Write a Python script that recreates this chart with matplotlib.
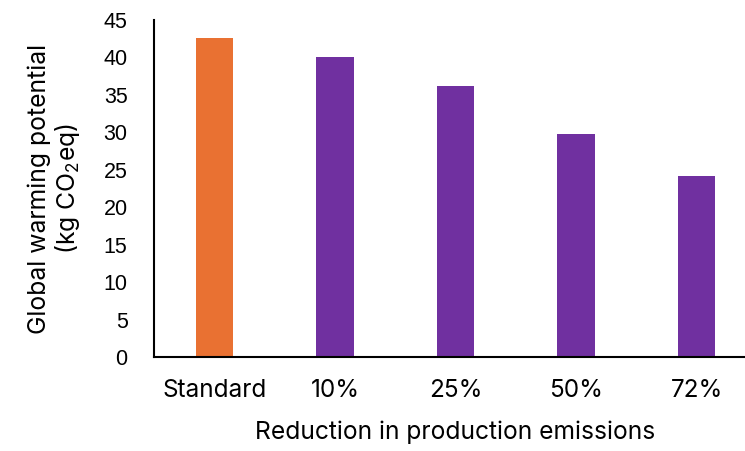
import matplotlib
matplotlib.use('Agg')
import matplotlib.pyplot as plt
import numpy as np

# Global warming potential per production scenario
scenarios = ['Standard', '10%', '25%', '50%', '72%']
gwp = [42.6, 40.0, 36.25, 29.8, 24.15]
bar_colors = ['#E97132', '#7030A0', '#7030A0', '#7030A0', '#7030A0']
y_ticks = [0, 5, 10, 15, 20, 25, 30, 35, 40, 45]

plt.rcParams['font.family'] = ['Inter', 'DejaVu Sans']
plt.rcParams['mathtext.fontset'] = 'custom'
plt.rcParams['mathtext.rm'] = 'Inter'
plt.rcParams['mathtext.it'] = 'Inter'

fig = plt.figure(figsize=(7.45, 4.51), dpi=100)
# axis runs a little past the right edge, as in the exported sheet
ax = fig.add_axes([154 / 745, 1 - 357 / 451, 603 / 745, 337 / 451])

x = np.arange(len(scenarios))
ax.bar(x, gwp, width=0.31, color=bar_colors)

ax.set_xlim(-0.5, len(scenarios) - 0.5)
ax.set_ylim(0, 45)
ax.set_yticks(y_ticks)
ax.set_xticks(x)
ax.set_xticklabels(scenarios)

for side in ['top', 'right']:
    ax.spines[side].set_visible(False)
ax.spines['left'].set_linewidth(1.5)
ax.spines['bottom'].set_linewidth(1.5)
ax.tick_params(axis='both', length=0, colors='#000000')
ax.tick_params(axis='x', pad=16, labelsize=17.5)
ax.tick_params(axis='y', pad=19)
for lbl in ax.get_yticklabels():
    lbl.set_family(['Liberation Sans', 'DejaVu Sans'])
    lbl.set_fontsize(15.5)

ax.set_ylabel('Global warming potential\n(kg CO$_2$eq)', fontsize=17.8,
              labelpad=15.5, linespacing=1.1)
ax.set_xlabel('Reduction in production emissions', fontsize=17.7, labelpad=13)

fig.savefig('out.png', dpi=100)
